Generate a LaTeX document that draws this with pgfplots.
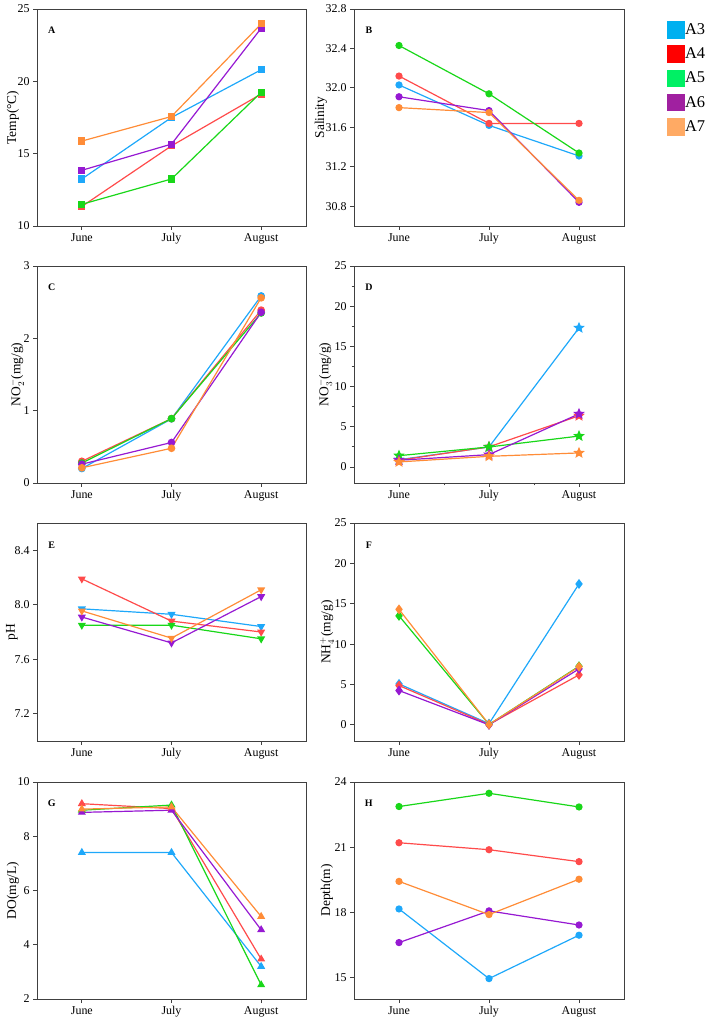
\documentclass[border=0pt]{standalone}
\usepackage{fontspec}
\setmainfont{Liberation Serif}
\usepackage{pgfplots}
\pgfplotsset{compat=1.18}
\definecolor{c3}{RGB}{30,168,250}
\definecolor{c4}{RGB}{255,75,75}
\definecolor{c5}{RGB}{25,215,25}
\definecolor{c6}{RGB}{150,25,210}
\definecolor{c7}{RGB}{255,140,55}
\definecolor{L3}{RGB}{0,176,240}
\definecolor{L4}{RGB}{255,0,0}
\definecolor{L5}{RGB}{0,240,100}
\definecolor{L6}{RGB}{160,32,160}
\definecolor{L7}{RGB}{255,170,100}
\pgfdeclareplotmark{fstar}{%
  \pgfpathmoveto{\pgfpointpolar{90}{\pgfplotmarksize}}%
  \pgfpathlineto{\pgfpointpolar{126}{0.45\pgfplotmarksize}}%
  \pgfpathlineto{\pgfpointpolar{162}{\pgfplotmarksize}}%
  \pgfpathlineto{\pgfpointpolar{198}{0.45\pgfplotmarksize}}%
  \pgfpathlineto{\pgfpointpolar{234}{\pgfplotmarksize}}%
  \pgfpathlineto{\pgfpointpolar{270}{0.45\pgfplotmarksize}}%
  \pgfpathlineto{\pgfpointpolar{306}{\pgfplotmarksize}}%
  \pgfpathlineto{\pgfpointpolar{342}{0.45\pgfplotmarksize}}%
  \pgfpathlineto{\pgfpointpolar{18}{\pgfplotmarksize}}%
  \pgfpathlineto{\pgfpointpolar{54}{0.45\pgfplotmarksize}}%
  \pgfpathclose\pgfusepathqfillstroke}
\pgfplotsset{
  panel/.style={scale only axis, width=269bp, height=217bp,
    xmin=-0.5, xmax=2.5, xtick={0,1,2}, xticklabels={June,July,August},
    tick align=outside, xtick pos=bottom, ytick pos=left,
    axis line style={draw=black!75, line width=0.9bp},
    tick style={black!75, line width=0.8bp}, major tick length=4bp, minor tick length=2.5bp,
    ticklabel style={font=\fontsize{12}{14}\selectfont},
    label style={font=\fontsize{13.5}{16}\selectfont},
    /pgf/number format/assume math mode=true,
    every axis plot/.append style={line width=1.2bp},
    clip=false, anchor=south west},
  yl/.style={ylabel style={at={(axis description cs:0,0.5)}, anchor=center, xshift=0pt, yshift=#1}},
  s3/.style={c3, mark options={fill=c3, draw=c3}},
  s4/.style={c4, mark options={fill=c4, draw=c4}},
  s5/.style={c5, mark options={fill=c5, draw=c5}},
  s6/.style={c6, mark options={fill=c6, draw=c6}},
  s7/.style={c7, mark options={fill=c7, draw=c7}},
}
\newcommand{\plab}[1]{\node[font=\bfseries\fontsize{10}{12}\selectfont] at (rel axis cs:0.055,0.9) {#1};}
\begin{document}
\begin{tikzpicture}
\useasboundingbox (0,0) rectangle (709bp,1020bp);
% A
\begin{axis}[panel, at={(37bp,794bp)}, ymin=10, ymax=25, ytick={10,15,20,25}, ylabel={Temp(°C)}, yl=24bp]
\addplot[s3, mark=square*, mark size=3bp] coordinates {(0,13.25) (1,17.5) (2,20.8)};
\addplot[s4, mark=square*, mark size=3bp] coordinates {(0,11.35) (1,15.54) (2,19.12)};
\addplot[s5, mark=square*, mark size=3bp] coordinates {(0,11.5) (1,13.25) (2,19.24)};
\addplot[s6, mark=square*, mark size=3bp] coordinates {(0,13.85) (1,15.66) (2,23.67)};
\addplot[s7, mark=square*, mark size=3bp] coordinates {(0,15.87) (1,17.57) (2,23.97)};
\plab{A}
\end{axis}
% B
\begin{axis}[panel, width=270bp, at={(354bp,794bp)}, ymin=30.6, ymax=32.8, ytick={30.8,31.2,31.6,32.0,32.4,32.8},
  yticklabel style={/pgf/number format/.cd, fixed, fixed zerofill, precision=1}, ylabel={Salinity}, yl=33bp,
  legend style={at={(axis description cs:1.16,0.945)}, anchor=north west, draw=none, fill=none,
    inner sep=0pt, row sep=6.5bp, font=\fontsize{16.5}{18}\selectfont,
    nodes={inner sep=0.5bp, text height=12bp, text depth=3.5bp}},
  legend cell align=left,
  legend image code/.code={\fill[#1] (0bp,-8bp) rectangle (16bp,8.5bp);}]
\addplot[s3, mark=*, mark size=3bp, forget plot] coordinates {(0,32.03) (1,31.62) (2,31.31)};
\addplot[s4, mark=*, mark size=3bp, forget plot] coordinates {(0,32.12) (1,31.64) (2,31.64)};
\addplot[s5, mark=*, mark size=3bp, forget plot] coordinates {(0,32.43) (1,31.94) (2,31.34)};
\addplot[s6, mark=*, mark size=3bp, forget plot] coordinates {(0,31.91) (1,31.77) (2,30.84)};
\addplot[s7, mark=*, mark size=3bp, forget plot] coordinates {(0,31.80) (1,31.75) (2,30.86)};
\addlegendimage{L3}\addlegendentry{A3}
\addlegendimage{L4}\addlegendentry{A4}
\addlegendimage{L5}\addlegendentry{A5}
\addlegendimage{L6}\addlegendentry{A6}
\addlegendimage{L7}\addlegendentry{A7}
\plab{B}
\end{axis}
% C
\begin{axis}[panel, at={(37bp,537bp)}, ymin=0, ymax=3, ytick={0,1,2,3}, ylabel={NO$_2^-$(mg/g)}, yl=20bp]
\addplot[s3, mark=*, mark size=3.2bp] coordinates {(0,0.20) (1,0.887) (2,2.586)};
\addplot[s4, mark=*, mark size=3.2bp] coordinates {(0,0.30) (1,0.89) (2,2.39)};
\addplot[s5, mark=*, mark size=3.2bp] coordinates {(0,0.276) (1,0.89) (2,2.35)};
\addplot[s6, mark=*, mark size=3.2bp] coordinates {(0,0.26) (1,0.56) (2,2.36)};
\addplot[s7, mark=*, mark size=3.2bp] coordinates {(0,0.21) (1,0.48) (2,2.56)};
\plab{C}
\end{axis}
% D
\begin{axis}[panel, width=270bp, at={(354bp,537bp)}, ymin=-2, ymax=25, ytick={0,5,10,15,20,25}, minor y tick num=1, minor x tick num=1, ylabel={NO$_3^-$(mg/g)}, yl=29bp]
\addplot[s3, mark=fstar, mark size=4.5bp] coordinates {(0,0.9) (1,2.48) (2,17.3)};
\addplot[s4, mark=fstar, mark size=4.5bp] coordinates {(0,0.83) (1,2.5) (2,6.36)};
\addplot[s5, mark=fstar, mark size=4.5bp] coordinates {(0,1.4) (1,2.48) (2,3.84)};
\addplot[s6, mark=fstar, mark size=4.5bp] coordinates {(0,0.83) (1,1.53) (2,6.6)};
\addplot[s7, mark=fstar, mark size=4.5bp] coordinates {(0,0.62) (1,1.32) (2,1.74)};
\plab{D}
\end{axis}
% E
\begin{axis}[panel, height=218bp, at={(37bp,279bp)}, ymin=7.0, ymax=8.6, ytick={7.2,7.6,8.0,8.4},
  yticklabel style={/pgf/number format/.cd, fixed, fixed zerofill, precision=1}, ylabel={pH}, yl=25bp]
\addplot[s3, mark=triangle*, mark size=3.5bp, mark options={rotate=180}] coordinates {(0,7.97) (1,7.93) (2,7.84)};
\addplot[s4, mark=triangle*, mark size=3.5bp, mark options={rotate=180}] coordinates {(0,8.19) (1,7.88) (2,7.80)};
\addplot[s5, mark=triangle*, mark size=3.5bp, mark options={rotate=180}] coordinates {(0,7.85) (1,7.85) (2,7.75)};
\addplot[s6, mark=triangle*, mark size=3.5bp, mark options={rotate=180}] coordinates {(0,7.91) (1,7.72) (2,8.06)};
\addplot[s7, mark=triangle*, mark size=3.5bp, mark options={rotate=180}] coordinates {(0,7.955) (1,7.755) (2,8.11)};
\plab{E}
\end{axis}
% F
\begin{axis}[panel, width=270bp, height=218bp, at={(354bp,279bp)}, ymin=-2, ymax=25, ytick={0,5,10,15,20,25}, ylabel={NH$_4^+$(mg/g)}, yl=27bp]
\addplot[s3, mark=diamond*, mark size=4bp] coordinates {(0,5.07) (1,0.15) (2,17.45)};
\addplot[s4, mark=diamond*, mark size=4bp] coordinates {(0,4.87) (1,0.05) (2,6.19)};
\addplot[s5, mark=diamond*, mark size=4bp] coordinates {(0,13.5) (1,0.05) (2,7.26)};
\addplot[s6, mark=diamond*, mark size=4bp] coordinates {(0,4.25) (1,0.0) (2,6.93)};
\addplot[s7, mark=diamond*, mark size=4bp] coordinates {(0,14.3) (1,0.05) (2,7.2)};
\plab{F}
\end{axis}
% G
\begin{axis}[panel, at={(37bp,21bp)}, ymin=2, ymax=10, ytick={2,4,6,8,10}, ylabel={DO(mg/L)}, yl=24bp]
\addplot[s3, mark=triangle*, mark size=3.5bp] coordinates {(0,7.4) (1,7.4) (2,3.2)};
\addplot[s4, mark=triangle*, mark size=3.5bp] coordinates {(0,9.2) (1,9.02) (2,3.47)};
\addplot[s5, mark=triangle*, mark size=3.5bp] coordinates {(0,8.96) (1,9.15) (2,2.52)};
\addplot[s6, mark=triangle*, mark size=3.5bp] coordinates {(0,8.88) (1,8.96) (2,4.55)};
\addplot[s7, mark=triangle*, mark size=3.5bp] coordinates {(0,9.0) (1,9.08) (2,5.04)};
\plab{G}
\end{axis}
% H
\begin{axis}[panel, width=270bp, at={(354bp,21bp)}, ymin=14, ymax=24, ytick={15,18,21,24}, ylabel={Depth(m)}, yl=27bp]
\addplot[s3, mark=*, mark size=3bp] coordinates {(0,18.15) (1,14.94) (2,16.94)};
\addplot[s4, mark=*, mark size=3bp] coordinates {(0,21.2) (1,20.88) (2,20.33)};
\addplot[s5, mark=*, mark size=3bp] coordinates {(0,22.87) (1,23.48) (2,22.85)};
\addplot[s6, mark=*, mark size=3bp] coordinates {(0,16.6) (1,18.06) (2,17.41)};
\addplot[s7, mark=*, mark size=3bp] coordinates {(0,19.42) (1,17.89) (2,19.52)};
\plab{H}
\end{axis}
\end{tikzpicture}
\end{document}
